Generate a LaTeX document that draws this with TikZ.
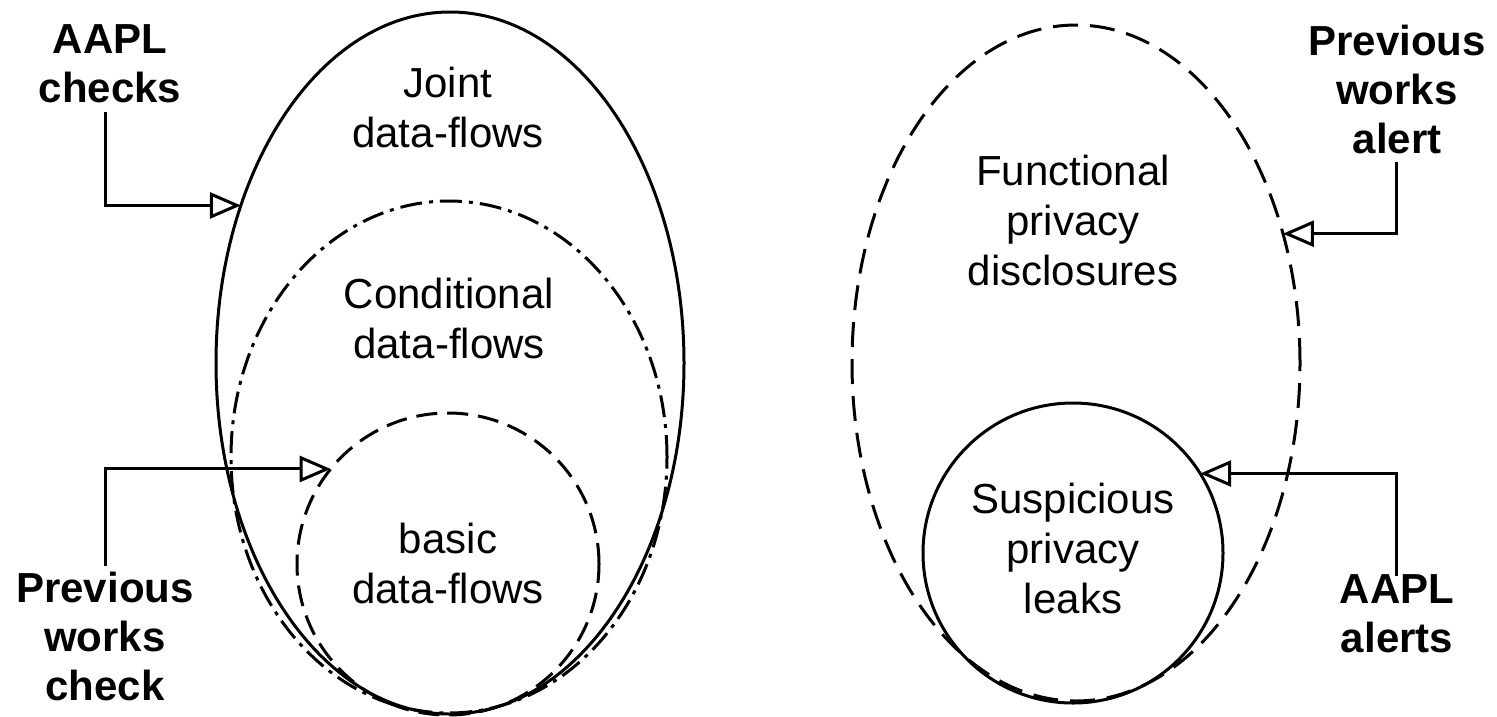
\documentclass[tikz,border=0pt]{standalone}
\usepackage{fontspec}
\setmainfont{Liberation Sans}
\usetikzlibrary{shapes.geometric,arrows.meta}

\tikzset{
  set/.style={draw, line width=3pt, inner sep=0pt, outer sep=0pt},
  setsolid/.style={set},
  setdashed/.style={set, dash pattern=on 21pt off 10pt},
  setlongdash/.style={set, dash pattern=on 25pt off 12pt},
  setdashdot/.style={set, dash pattern=on 22pt off 7pt on 4pt off 7pt},
  settext/.style={inner sep=0pt, align=center, anchor=base,
    font=\fontsize{42}{50}\selectfont},
  claim/.style={settext, font=\fontsize{42}{49}\selectfont\bfseries},
  pointer/.style={line width=3pt,
    -{Triangle[open, length=31pt, width=26pt, line width=3pt]}},
}

\begin{document}
\begin{tikzpicture}[x=1pt, y=-1pt]
\useasboundingbox (0,0) rectangle (1497,716);

% nested data-flow sets
\node[setsolid, ellipse, minimum width=468pt, minimum height=702pt] (joint) at (450,363) {};
\node[setdashdot, ellipse, minimum width=436pt, minimum height=512pt] (cond) at (449,457) {};
\node[setdashed, circle, minimum size=302pt] (basic) at (448,564) {};

% privacy disclosure sets
\node[setlongdash, ellipse, minimum width=448pt, minimum height=676pt] (func) at (1076,363) {};
\node[setsolid, circle, minimum size=300pt] (susp) at (1073,553) {};

% set labels (anchored at the baseline of their last line)
\node[settext] (tjoint) at (448,147) {Joint\\data-flows};
\node[settext] (tcond) at (449,358) {Conditional\\data-flows};
\node[settext] (tbasic) at (448,603) {basic\\data-flows};
\node[settext] (tfunc) at (1073,285) {Functional\\privacy\\disclosures};
\node[settext] (tsusp) at (1073,613) {Suspicious\\privacy\\leaks};

% side annotations
\node[claim] (aaplchecks) at (110,102) {AAPL\\checks};
\node[claim] (prevcheck) at (105,700) {Previous\\works\\check};
\node[claim] (prevalert) at (1397,153) {Previous\\works\\alert};
\node[claim] (aaplalerts) at (1397,652) {AAPL\\alerts};

% pointer start points
\coordinate (s1) at (105,112);
\coordinate (s2) at (105,566);
\coordinate (s3) at (1396,162);
\coordinate (s4) at (1396,576);

\draw[pointer] (s1) |- (joint.143.5);
\draw[pointer] (s2) |- (basic.141.6);
\draw[pointer] (s3) |- (func.32.4);
\draw[pointer] (s4) |- (susp.32.8);
\end{tikzpicture}
\end{document}
